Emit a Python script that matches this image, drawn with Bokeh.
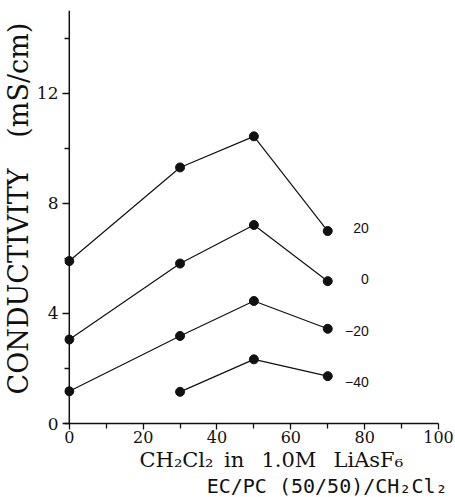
from bokeh.plotting import figure
from bokeh.models import Range1d, FixedTicker, Span, Label, Title
from bokeh.embed import file_html
from bokeh.resources import INLINE

# ---- data ----
ch2cl2_pct = [0, 30, 50, 70]
ch2cl2_pct_m40 = [30, 50, 70]
cond_20 = [5.90, 9.30, 10.43, 6.99]
cond_0 = [3.05, 5.81, 7.21, 5.17]
cond_m20 = [1.17, 3.18, 4.45, 3.44]
cond_m40 = [1.15, 2.33, 1.72]
series_names = ["20", "0", "\u221220", "\u221240"]

x_ticks = [0, 20, 40, 60, 80, 100]
x_minor = [10, 30, 50, 70, 90]
y_ticks = [0, 4, 8, 12]
y_minor = [2, 6, 10, 14]

SERIF = "DejaVu Serif"
INK = "#111111"

p = figure(width=455, height=497, x_range=Range1d(-1.3, 100), y_range=Range1d(0, 15),
           output_backend="svg", toolbar_location=None,
           min_border_left=64, min_border_right=17, min_border_top=10, min_border_bottom=0)
p.outline_line_color = None
p.grid.visible = False
p.background_fill_color = "white"
p.border_fill_color = "white"

# x axis
xa = p.xaxis[0]
xa.ticker = FixedTicker(ticks=x_ticks, minor_ticks=x_minor)
xa.axis_line_color = INK
xa.axis_line_width = 1.5
xa.major_tick_out = 6
xa.major_tick_in = 0
xa.minor_tick_out = 5
xa.minor_tick_in = 0
xa.major_tick_line_color = INK
xa.minor_tick_line_color = INK
xa.major_tick_line_width = 1.3
xa.minor_tick_line_width = 1.3
xa.major_label_text_font = SERIF
xa.major_label_text_font_size = "16px"
xa.major_label_text_color = INK
xa.major_label_standoff = 1

# y axis (its line is drawn as a span at x = 0)
ya = p.yaxis[0]
ya.ticker = FixedTicker(ticks=y_ticks, minor_ticks=y_minor)
ya.axis_line_color = None
ya.major_tick_out = 2
ya.major_tick_in = 5
ya.minor_tick_out = 0
ya.minor_tick_in = 5
ya.major_tick_line_color = INK
ya.minor_tick_line_color = INK
ya.major_tick_line_width = 1.5
ya.minor_tick_line_width = 1.3
ya.major_label_text_font = SERIF
ya.major_label_text_font_size = "17px"
ya.major_label_text_color = INK
ya.major_label_standoff = 4

p.add_layout(Span(location=0, dimension="height", line_color=INK, line_width=1.5))

series = [(ch2cl2_pct, cond_20), (ch2cl2_pct, cond_0), (ch2cl2_pct, cond_m20), (ch2cl2_pct_m40, cond_m40)]
nudges = [0.1, 0.07, -0.09, -0.23]
for (xs, ys), name, dy in zip(series, series_names, nudges):
    p.line(xs, ys, line_color=INK, line_width=1.2)
    p.scatter(xs, ys, size=9, color=INK)
    p.add_layout(Label(x=xs[-1], y=ys[-1] + dy, x_offset=41, text=name,
                       text_align="right", text_baseline="middle",
                       text_font="Liberation Sans", text_font_size="14px",
                       text_color=INK))

# axis titles
p.add_layout(Title(text="CONDUCTIVITY \u2002 (mS/cm)", align="left", offset=29, standoff=0,
                   text_font=SERIF, text_font_size="27px", text_font_style="normal",
                   text_color=INK), "left")
p.add_layout(Title(text="CH\u2082Cl\u2082\u2002in\u2002 1.0M\u2002 LiAsF\u2086", align="left", offset=75, standoff=0,
                   text_font=SERIF, text_font_size="21px", text_font_style="normal",
                   text_color=INK), "below")
p.add_layout(Title(text="EC/PC (50/50)/CH\u2082Cl\u2082", align="right", offset=-9, standoff=0,
                   text_font="DejaVu Sans Mono", text_font_size="20px", text_font_style="normal",
                   text_color=INK), "below")

open("out.html", "w").write(file_html(p, INLINE))
